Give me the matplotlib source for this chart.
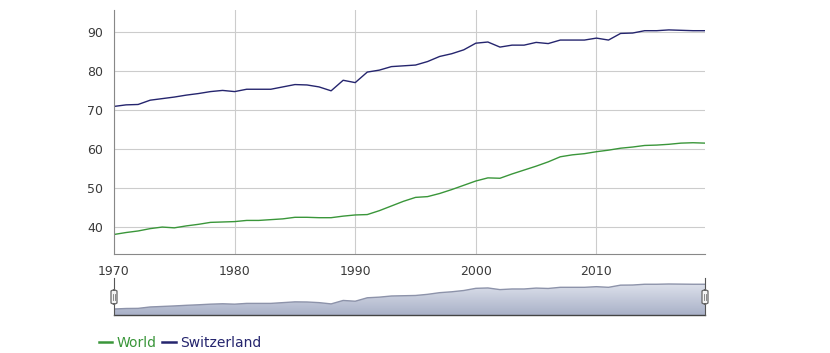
import numpy as np
import matplotlib
matplotlib.use("Agg")
import matplotlib.pyplot as plt
from matplotlib.patches import FancyBboxPatch

years = list(range(1970, 2020))

world = [38.1, 38.6, 39.0, 39.6, 40.0, 39.8, 40.3, 40.7, 41.2, 41.3,
         41.4, 41.7, 41.7, 41.9, 42.1, 42.5, 42.5, 42.4, 42.4, 42.8,
         43.1, 43.2, 44.2, 45.4, 46.6, 47.6, 47.8, 48.6, 49.6, 50.7,
         51.8, 52.6, 52.5, 53.6, 54.6, 55.6, 56.7, 58.0, 58.5, 58.8,
         59.3, 59.7, 60.2, 60.5, 60.9, 61.0, 61.2, 61.5, 61.6, 61.5]

switzerland = [70.9, 71.3, 71.4, 72.5, 72.9, 73.3, 73.8, 74.2, 74.7, 75.0,
               74.7, 75.3, 75.3, 75.3, 75.9, 76.5, 76.4, 75.9, 74.9, 77.6,
               77.0, 79.7, 80.2, 81.1, 81.3, 81.5, 82.4, 83.7, 84.4, 85.4,
               87.1, 87.4, 86.1, 86.6, 86.6, 87.3, 87.0, 87.9, 87.9, 87.9,
               88.4, 87.9, 89.6, 89.7, 90.3, 90.3, 90.5, 90.4, 90.3, 90.3]

x_ticks = [1970, 1980, 1990, 2000, 2010]
y_ticks = [40, 50, 60, 70, 80, 90]

GREEN = "#3a963a"
NAVY = "#25256e"
TXT = "#3a3a3a"

fig = plt.figure(figsize=(8.3, 3.53), dpi=100)
W, H = 830, 353

def box(x0, y0, x1, y1):
    return [x0 / W, 1 - y1 / H, (x1 - x0) / W, (y1 - y0) / H]

# main chart
ax = fig.add_axes(box(114, 10, 705, 254))
l1, = ax.plot(years, world, color=GREEN, lw=1.0, label="World")
l2, = ax.plot(years, switzerland, color=NAVY, lw=1.0, label="Switzerland")
ax.set_xlim(1970, 2019)
ax.set_ylim(33.1, 95.6)
ax.set_xticks(x_ticks)
ax.set_yticks(y_ticks)
ax.grid(True, color="#cccccc", lw=0.8)
ax.set_axisbelow(True)
for s in ["top", "right"]:
    ax.spines[s].set_visible(False)
for s in ["left", "bottom"]:
    ax.spines[s].set_color("#888888")
    ax.spines[s].set_linewidth(0.8)
ax.tick_params(length=0, labelsize=9, colors=TXT, pad=8)

# navigator
nav = fig.add_axes(box(114, 278, 705, 315))
nav.set_xlim(1970, 2019)
nav.set_ylim(66.2, 95.2)
sw = np.array(switzerland)
grad = np.linspace(0, 1, 100).reshape(-1, 1)
img = nav.imshow(grad, extent=[1970, 2019, 66.2, 95.2], aspect="auto",
                 cmap=matplotlib.colors.LinearSegmentedColormap.from_list(
                     "nav", ["#a9b1c8", "#e6e9f1"]), origin="lower", zorder=1)
poly = nav.fill_between(years, sw, 66.2, color="none")
img.set_clip_path(poly.get_paths()[0], transform=nav.transData)
nav.plot(years, sw, color="#8d93aa", lw=1.0, zorder=2)
nav.set_xticks([])
nav.set_yticks([])
for s in ["top", "right", "left"]:
    nav.spines[s].set_visible(False)
nav.spines["bottom"].set_color("#444444")
nav.spines["bottom"].set_linewidth(1.0)

# handles (figure pixel positions)
for xp in [114, 705]:
    fig.add_artist(plt.Line2D([xp / W, xp / W], [1 - 315 / H, 1 - 278 / H],
                              color="#555555", lw=0.8, transform=fig.transFigure))
    fig.add_artist(FancyBboxPatch(((xp - 3) / W, 1 - 304 / H), 6 / W, 14 / H,
                                  boxstyle="round,pad=0,rounding_size=0.004",
                                  fc="#f4f4f4", ec="#666666", lw=0.9,
                                  transform=fig.transFigure, zorder=5))
    for dx in [-0.8, 0.8]:
        fig.add_artist(plt.Line2D([(xp + dx) / W] * 2, [1 - 300 / H, 1 - 294 / H],
                                  color="#777777", lw=0.6, transform=fig.transFigure,
                                  zorder=6))

fig.legend(handles=[l1, l2], loc="center left", bbox_to_anchor=(86 / W, 1 - 343 / H),
           ncol=2, frameon=False, handlelength=1.0, handletextpad=0.3,
           columnspacing=0.4, labelcolor="linecolor",
           prop={"size": 10})
for ln in fig.legends[0].get_lines():
    ln.set_linewidth(1.8)

fig.savefig("out.png", dpi=100)
